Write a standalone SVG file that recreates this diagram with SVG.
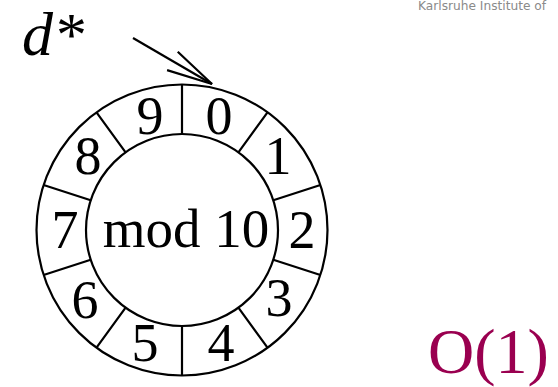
<svg xmlns="http://www.w3.org/2000/svg" width="558" height="387" viewBox="0 0 558 387">
<style>
.ln{fill:none;stroke:#000;stroke-width:2.2}
.dg{font-family:"Liberation Serif","Times New Roman",serif;font-size:54px;fill:#000;text-anchor:middle}
</style>
<defs>
<marker id="chev" markerUnits="userSpaceOnUse" viewBox="-50 -15 55 30" refX="0" refY="0" markerWidth="55" markerHeight="30" orient="auto" overflow="visible">
<path d="M -45.8 -10.6 L 0 0 L -45.8 10.6" fill="none" stroke="#000" stroke-width="2.2"/>
</marker>
</defs>
<rect width="558" height="387" fill="#fff"/>
<text x="418" y="10" font-family="'DejaVu Sans',sans-serif" font-size="12.2" fill="#8a8a8a">Karlsruhe Institute of</text>
<g id="ring">
<circle class="ln" cx="182" cy="230" r="145.5"/>
<circle class="ln" cx="182" cy="230" r="96"/>
<path class="ln" d="M182 134V84.5 M238.4 152.3L267.5 112.3 M273.3 200.3L320.4 185 M273.3 259.7L320.4 275 M238.4 307.7L267.5 347.7 M182 326V375.5 M125.6 307.7L96.5 347.7 M90.7 259.7L43.6 275 M90.7 200.3L43.6 185 M125.6 152.3L96.5 112.3"/>
</g>
<g id="slot0"><text class="dg" x="219" y="134">0</text></g>
<g id="slot1"><text class="dg" x="278" y="174">1</text></g>
<g id="slot2"><text class="dg" x="302" y="248">2</text></g>
<g id="slot3"><text class="dg" x="279" y="316">3</text></g>
<g id="slot4"><text class="dg" x="221" y="361">4</text></g>
<g id="slot5"><text class="dg" x="145" y="361">5</text></g>
<g id="slot6"><text class="dg" x="85" y="318">6</text></g>
<g id="slot7"><text class="dg" x="65" y="248">7</text></g>
<g id="slot8"><text class="dg" x="88" y="174">8</text></g>
<g id="slot9"><text class="dg" x="150" y="134">9</text></g>
<g id="center"><text x="186" y="247" font-family="'Liberation Serif','Times New Roman',serif" font-size="55" text-anchor="middle">mod 10</text></g>
<g id="dstar"><text x="22" y="55" font-family="'Liberation Serif','Times New Roman',serif" font-size="62" font-style="italic">d*</text></g>
<g id="connectors">
<line x1="133" y1="38" x2="212" y2="84" stroke="#000" stroke-width="2.2" marker-end="url(#chev)"/>
</g>
<g id="complexity"><text x="428" y="373" font-family="'Liberation Serif','Times New Roman',serif" font-size="64" fill="#9a0050">O(1)</text></g>
</svg>
